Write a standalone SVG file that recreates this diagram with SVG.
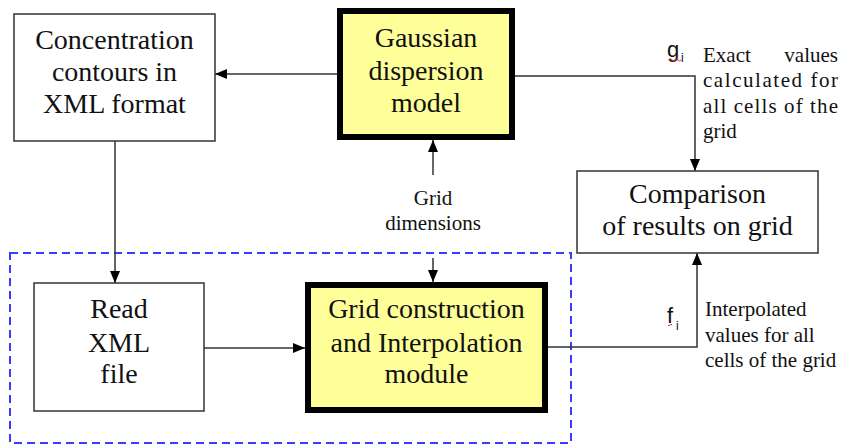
<svg xmlns="http://www.w3.org/2000/svg" width="856" height="446" viewBox="0 0 856 446">
<defs>
<marker id="ah" viewBox="0 0 12 10" refX="12" refY="5" markerWidth="12" markerHeight="10" markerUnits="userSpaceOnUse" orient="auto">
<path d="M0,0 L12,5 L0,10 Z" fill="#000"/>
</marker>
</defs>
<rect width="856" height="446" fill="#fff"/>
<rect id="module-frame" x="10" y="253" width="561" height="190" fill="none" stroke="#3b3bff" stroke-width="2" stroke-dasharray="8,5"/>
<g id="connectors" fill="none" stroke="#333" stroke-width="1.5">
<line x1="337" y1="74" x2="215" y2="74" marker-end="url(#ah)"/>
<line x1="115" y1="141" x2="115" y2="283" marker-end="url(#ah)"/>
<line x1="204" y1="348" x2="305" y2="348" marker-end="url(#ah)"/>
<line x1="433" y1="175" x2="433" y2="140" marker-end="url(#ah)"/>
<line x1="433" y1="258" x2="433" y2="282" marker-end="url(#ah)"/>
<polyline points="515,76 695,76 695,171" marker-end="url(#ah)"/>
<polyline points="548,347 697,347 697,253" marker-end="url(#ah)"/>
</g>
<g id="concentration">
<rect x="14" y="14" width="201" height="127" fill="#fff" stroke="#333" stroke-width="1.5"/>
<text style="font-family:'Liberation Serif',serif" font-size="28" fill="#111" text-anchor="middle" x="114.5" y="49">Concentration</text>
<text style="font-family:'Liberation Serif',serif" font-size="28" fill="#111" text-anchor="middle" x="114.5" y="81">contours in</text>
<text style="font-family:'Liberation Serif',serif" font-size="28" fill="#111" text-anchor="middle" x="114.5" y="113">XML format</text>
</g>
<g id="gaussian">
<rect x="340" y="11" width="172" height="126" fill="#ffff99" stroke="#000" stroke-width="6"/>
<text style="font-family:'Liberation Serif',serif" font-size="28" fill="#111" text-anchor="middle" x="426" y="47">Gaussian</text>
<text style="font-family:'Liberation Serif',serif" font-size="28" fill="#111" text-anchor="middle" x="426" y="80">dispersion</text>
<text style="font-family:'Liberation Serif',serif" font-size="28" fill="#111" text-anchor="middle" x="426" y="112">model</text>
</g>
<g id="comparison">
<rect x="577" y="171" width="241" height="82" fill="#fff" stroke="#333" stroke-width="1.5"/>
<text style="font-family:'Liberation Serif',serif" font-size="28" fill="#111" text-anchor="middle" x="697.5" y="203">Comparison</text>
<text style="font-family:'Liberation Serif',serif" font-size="28" fill="#111" text-anchor="middle" x="697.5" y="235">of results on grid</text>
</g>
<g id="readxml">
<rect x="34" y="283" width="170" height="128" fill="#fff" stroke="#333" stroke-width="1.5"/>
<text style="font-family:'Liberation Serif',serif" font-size="28" fill="#111" text-anchor="middle" x="119" y="318">Read</text>
<text style="font-family:'Liberation Serif',serif" font-size="28" fill="#111" text-anchor="middle" x="119" y="352">XML</text>
<text style="font-family:'Liberation Serif',serif" font-size="28" fill="#111" text-anchor="middle" x="119" y="383">file</text>
</g>
<g id="gridmodule">
<rect x="308" y="285" width="237" height="125" fill="#ffff99" stroke="#000" stroke-width="6"/>
<text style="font-family:'Liberation Serif',serif" font-size="28" fill="#111" text-anchor="middle" x="426.5" y="318">Grid construction</text>
<text style="font-family:'Liberation Serif',serif" font-size="28" fill="#111" text-anchor="middle" x="426.5" y="352">and Interpolation</text>
<text style="font-family:'Liberation Serif',serif" font-size="28" fill="#111" text-anchor="middle" x="426.5" y="383">module</text>
</g>
<g id="griddims">
<text style="font-family:'Liberation Serif',serif" font-size="21" fill="#111" text-anchor="middle" x="433" y="205">Grid</text>
<text style="font-family:'Liberation Serif',serif" font-size="21" fill="#111" text-anchor="middle" x="433" y="230">dimensions</text>
</g>
<g id="exact-label">
<text style="font-family:'Liberation Sans',sans-serif" x="667" y="57" font-size="22" fill="#111">g</text>
<text style="font-family:'Liberation Sans',sans-serif" x="681" y="62" font-size="12" fill="#111">i</text>
<path d="M669,60 q1.5,-2 3,0 t3,0 t3,0 t3,0" fill="none" stroke="#e03030" stroke-width="1"/>
<text style="font-family:'Liberation Serif',serif" font-size="21" fill="#111" x="703" y="62">Exact</text>
<text style="font-family:'Liberation Serif',serif" font-size="21" fill="#111" x="838" y="62" text-anchor="end">values</text>
<text style="font-family:'Liberation Serif',serif" font-size="21" fill="#111" x="703" y="87" textLength="135" lengthAdjust="spacing">calculated for</text>
<text style="font-family:'Liberation Serif',serif" font-size="21" fill="#111" x="703" y="113" textLength="135" lengthAdjust="spacing">all cells of the</text>
<text style="font-family:'Liberation Serif',serif" font-size="21" fill="#111" x="703" y="138">grid</text>
</g>
<g id="interp-label">
<text style="font-family:'Liberation Sans',sans-serif" x="667" y="323" font-size="22" fill="#111">f</text>
<text style="font-family:'Liberation Sans',sans-serif" x="676" y="330" font-size="12" fill="#111">i</text>
<path d="M668,325 q1,1.5 2,0 t2,0" fill="none" stroke="#e03030" stroke-width="1"/>
<text style="font-family:'Liberation Serif',serif" font-size="21" fill="#111" x="705" y="316">Interpolated</text>
<text style="font-family:'Liberation Serif',serif" font-size="21" fill="#111" x="705" y="342">values for all</text>
<text style="font-family:'Liberation Serif',serif" font-size="21" fill="#111" x="705" y="367">cells of the grid</text>
</g>
</svg>
